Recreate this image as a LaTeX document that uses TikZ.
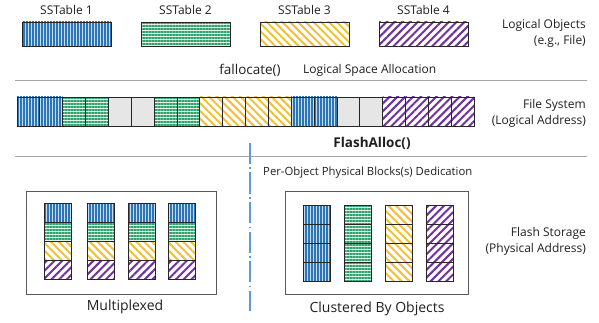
\documentclass[tikz,border=0pt]{standalone}
\usepackage{fontspec}
\setmainfont{Open Sans}
\usetikzlibrary{patterns.meta}
\definecolor{blueln}{HTML}{2E75B6}
\definecolor{bluebg}{HTML}{C5DDF0}
\definecolor{greenln}{HTML}{2FA36B}
\definecolor{greenbg}{HTML}{E2F4EA}
\definecolor{yellowln}{HTML}{F2C037}
\definecolor{purpleln}{HTML}{7030A0}
\definecolor{emptyc}{HTML}{E7E6E6}
\definecolor{rulec}{HTML}{A6A6A6}
\definecolor{dashblue}{HTML}{5B9BD5}
\definecolor{boxc}{HTML}{595959}
\begin{document}
\begin{tikzpicture}[x=1pt,y=-1pt,
  cell/.style={draw=black!85, line width=0.8pt, inner sep=0pt, outer sep=0pt, anchor=north west},
  fillB/.style={preaction={fill=bluebg}, pattern={Lines[angle=90,distance=3pt,line width=1.2pt]}, pattern color=blueln},
  fillG/.style={preaction={fill=greenbg}, pattern={Lines[angle=0,distance=3pt,line width=1.4pt]}, pattern color=greenln},
  fillY/.style={preaction={fill=white}, pattern={Lines[angle=-45,distance=5.5pt,line width=2pt]}, pattern color=yellowln},
  fillP/.style={preaction={fill=white}, pattern={Lines[angle=45,distance=5.5pt,line width=2pt]}, pattern color=purpleln},
  fillE/.style={fill=emptyc},
  lbl/.style={inner sep=0pt, font=\fontsize{12}{16}\selectfont, text=black!88},
  big/.style={inner sep=0pt, font=\fontsize{14}{16}\selectfont, text=black!88},
  rulel/.style={draw=rulec, line width=1pt},
  outer/.style={draw=boxc, line width=1.1pt, anchor=north west, inner sep=0pt}
]
\useasboundingbox (0,0) rectangle (599,323);

% top row: logical objects
\foreach \c/\x [count=\i] in {B/22,G/141,Y/260,P/379}{
  \node[cell, fill\c, minimum width=89pt, minimum height=24pt] (t\i) at (\x,22) {};
  \node[lbl] (tl\i) at (\x+44.5,10) {SSTable \i};
}
\node[lbl, anchor=east, align=right] (lo) at (586,33) {Logical Objects\\(e.g., File)};

\node[lbl, font=\fontsize{13.5}{16}\selectfont] (fa) at (250,70) {fallocate()};
\node[lbl, font=\fontsize{12}{16}\selectfont, anchor=west] (lsa) at (303,70) {Logical Space Allocation};

\coordinate (r1a) at (15,80.5);
\coordinate (r1b) at (587,80.5);
\draw[rulel] (r1a) -- (r1b);

% file system row
\foreach \c [count=\i from 0] in {B,B,G,G,E,E,G,G,Y,Y,Y,Y,B,B,E,E,P,P,P,P}{
  \node[cell, fill\c, minimum width=22.85pt, minimum height=29pt] (fs\i) at ({17+22.85*\i},97) {};
}
\node[lbl, anchor=east, align=right] (fsl) at (586,113) {File System\\(Logical Address)};

\node[lbl, font=\fontsize{13.5}{16}\selectfont\bfseries] (flash) at (372,143) {FlashAlloc()};

\coordinate (r2a) at (15,157);
\coordinate (r2b) at (587,157);
\draw[rulel] (r2a) -- (r2b);

\coordinate (d1) at (250,143);
\coordinate (d2) at (250,311);
\draw[dashblue, line width=1.5pt, dash pattern=on 21pt off 3.5pt on 1.5pt off 3.5pt] (d1) -- (d2);

\node[lbl, font=\fontsize{11.3}{14}\selectfont, anchor=west] (pod) at (263,173) {Per-Object Physical Blocks(s) Dedication};

% left box: multiplexed
\node[outer, minimum width=190pt, minimum height=103pt] (lb) at (26,191) {};
\foreach \x [count=\j] in {44,87,128,168}{
  \foreach \c [count=\k from 0] in {B,G,Y,P}{
    \node[cell, fill\c, minimum width=27pt, minimum height=19pt] (m\j\k) at (\x,{203+19*\k}) {};
  }
}
\node[big] (mx) at (125,307) {Multiplexed};

% right box: clustered
\node[outer, minimum width=183pt, minimum height=103pt] (rb) at (285,191) {};
\foreach \x/\c [count=\j] in {303/B,344/G,385/Y,426/P}{
  \foreach \k in {0,1,2,3}{
    \node[cell, fill\c, minimum width=27pt, minimum height=19pt] (c\j\k) at (\x,{205+19*\k}) {};
  }
}
\node[big] (cl) at (377,309) {Clustered By Objects};

\node[lbl, anchor=east, align=right] (fsg) at (586,241) {Flash Storage\\(Physical Address)};
\end{tikzpicture}
\end{document}
